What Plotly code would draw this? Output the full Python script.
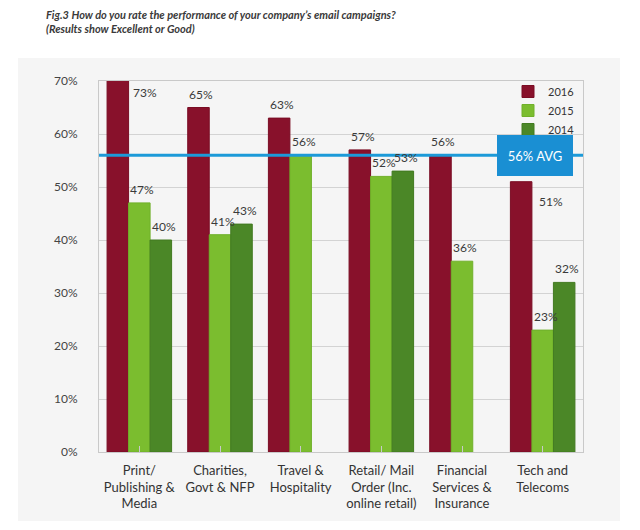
import plotly.graph_objects as go

categories = ["Print/<br>Publishing &<br>Media", "Charities,<br>Govt & NFP", "Travel &<br>Hospitality",
              "Retail/ Mail<br>Order (Inc.<br>online retail)", "Financial<br>Services &<br>Insurance",
              "Tech and<br>Telecoms"]
series_names = ["2016", "2015", "2014"]
values_2016 = [73, 65, 63, 57, 56, 51]
values_2015 = [47, 41, 56, 52, 36, 23]
values_2014 = [40, 43, None, 53, None, 32]
avg_value = 56
y_ticks = [0, 10, 20, 30, 40, 50, 60, 70]
y_tick_labels = [f"{t}%" for t in y_ticks]

colors = ["#88112b", "#7bbd2f", "#4b8727"]
line_colors = ["#7a0d24", "#70b02a", "#427a21"]
FONT = "Lato"

# page body has an 8px margin: figure origin sits at (8, 8) in the window
OFF = 8
W, H = 632, 522
ML, MT = 99 - OFF, 81 - OFF
MR = W - (583 - OFF)
MB = H - (452 - OFF)
pw, ph = W - ML - MR, H - MT - MB
ymax = 70
bargap = 0.2
bar_w = (1 - bargap) / 3  # in category units

fig = go.Figure()
all_vals = [values_2016, values_2015, values_2014]
for name, vals, c, lc in zip(series_names, all_vals, colors, line_colors):
    fig.add_trace(go.Bar(x=list(range(len(categories))), y=vals, name=name,
                         marker=dict(color=c, line=dict(color=lc, width=1))))

def px_to_paper_x(px):
    return (px - OFF - ML) / pw

def px_to_paper_y(py):
    return (H - MB - (py - OFF)) / ph

# badge geometry (window px)
badge_cx_px, badge_w, badge_h = 535, 72, 37
badge_x = px_to_paper_x(badge_cx_px)
badge_cat_lo = (px_to_paper_x(badge_cx_px - badge_w / 2)) * len(categories) - 0.5
badge_cat_hi = (px_to_paper_x(badge_cx_px + badge_w / 2)) * len(categories) - 0.5
badge_val_lo = avg_value - badge_h / 2 / ph * ymax
badge_val_hi = avg_value + badge_h / 2 / ph * ymax

label_font = dict(size=12, color="#3a3a3a", family=FONT)
annotations = []
for i, vals in enumerate(all_vals):
    for j, v in enumerate(vals):
        if v is None:
            continue
        xc = j + (i - 1) * bar_w
        txt = f"{v}%"
        lab_hi = v + 20 / ph * ymax
        if v > ymax:
            annotations.append(dict(x=xc + bar_w, y=ymax, xref="x", yref="y", text=txt, font=label_font,
                                    showarrow=False, yanchor="top", yshift=-2, xshift=6))
        elif (badge_cat_lo < xc < badge_cat_hi) and not (lab_hi < badge_val_lo or v > badge_val_hi):
            annotations.append(dict(x=xc + bar_w, y=v, xref="x", yref="y", text=txt, font=label_font,
                                    showarrow=False, yanchor="top", yshift=-10, xshift=8))
        else:
            annotations.append(dict(x=xc, y=v, xref="x", yref="y", text=txt, font=label_font,
                                    showarrow=False, yanchor="bottom", yshift=4, xshift=3))

annotations.append(dict(x=badge_x, y=avg_value, xref="paper", yref="y", text=f"{avg_value}% AVG",
                        showarrow=False, xanchor="center", yanchor="middle",
                        bgcolor="#1a8fd3", bordercolor="#1a8fd3", width=badge_w, height=badge_h,
                        font=dict(color="white", size=13, family=FONT)))

annotations.append(dict(x=px_to_paper_x(44), y=px_to_paper_y(6), xref="paper", yref="paper",
                        xanchor="left", yanchor="top", align="left", showarrow=False,
                        text="<b><i>Fig.3 How do you rate the performance of your company’s email campaigns?</i></b><br>"
                             "<b><i>(Results show Excellent or Good)</i></b>",
                        font=dict(size=11, color="#3a3a3a", family=FONT)))

shapes = [
    dict(type="rect", xref="paper", yref="paper", layer="below",
         x0=px_to_paper_x(18), x1=px_to_paper_x(620), y0=px_to_paper_y(521), y1=px_to_paper_y(58),
         fillcolor="#f5f5f5", line=dict(width=0)),
    dict(type="line", xref="paper", yref="y", layer="above", x0=0, x1=1, y0=avg_value, y1=avg_value,
         line=dict(color="#1c9ad8", width=3)),
]

fig.update_layout(
    width=W, height=H, margin=dict(l=ML, r=MR, t=MT, b=MB),
    paper_bgcolor="white", plot_bgcolor="rgba(0,0,0,0)",
    barmode="group", bargap=bargap, bargroupgap=0,
    font=dict(family=FONT, size=12, color="#444"),
    annotations=annotations, shapes=shapes,
    legend=dict(x=px_to_paper_x(508), y=px_to_paper_y(77), xanchor="left", yanchor="top",
                bgcolor="rgba(0,0,0,0)", traceorder="normal", font=dict(size=11, color="#333")),
    xaxis=dict(tickmode="array", tickvals=list(range(len(categories))), ticktext=categories,
               range=[-0.5, len(categories) - 0.5], showline=True, linecolor="#c9c9c9", mirror=True,
               ticks="inside", tickson="boundaries", ticklen=6, tickcolor="#c9c9c9",
               ticklabelstandoff=6,
               showgrid=False, tickfont=dict(size=13, color="#333")),
    yaxis=dict(range=[0, ymax], tickmode="array", tickvals=y_ticks, ticktext=y_tick_labels,
               showline=True, linecolor="#c9c9c9",
               mirror=True, gridcolor="#d3d3d3", zeroline=False, ticks="", ticklabelstandoff=18,
               tickfont=dict(size=12, color="#444")),
)

fig.write_html("out.html")
